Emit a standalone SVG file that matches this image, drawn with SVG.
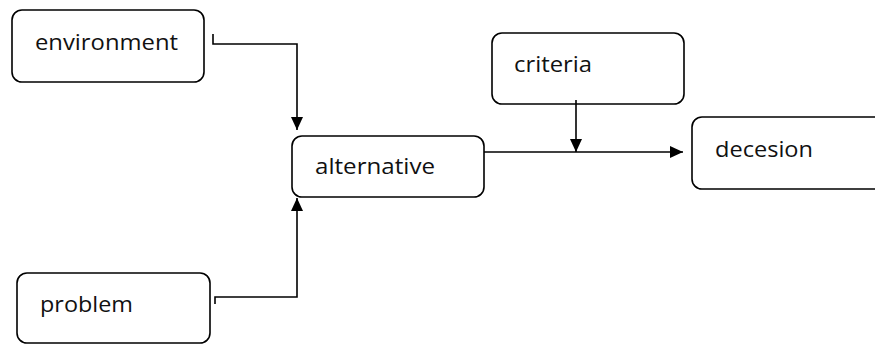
<svg xmlns="http://www.w3.org/2000/svg" width="875" height="344" viewBox="0 0 875 344">
<style>
.box{fill:#fff;stroke:#000;stroke-width:1.6}
.lbl{font-family:"Open Sans","Noto Sans",sans-serif;font-size:21px;fill:#111}
.con{fill:none;stroke:#000;stroke-width:1.6}
</style>
<defs>
<marker id="arr" viewBox="0 0 13 12" refX="13" refY="6" markerWidth="13" markerHeight="12" markerUnits="userSpaceOnUse" orient="auto">
<path d="M0,0 L13,6 L0,12 Z" fill="#000"/>
</marker>
</defs>
<rect width="875" height="344" fill="#fff"/>
<g id="environment"><rect class="box" x="12" y="10" width="192" height="72" rx="10"/><text class="lbl" x="35" y="50" textLength="143" lengthAdjust="spacingAndGlyphs">environment</text></g>
<g id="alternative"><rect class="box" x="292" y="136" width="192" height="61" rx="10"/><text class="lbl" x="315" y="174" textLength="120" lengthAdjust="spacingAndGlyphs">alternative</text></g>
<g id="criteria"><rect class="box" x="492" y="33" width="192" height="71" rx="10"/><text class="lbl" x="514" y="72" textLength="78" lengthAdjust="spacingAndGlyphs">criteria</text></g>
<g id="decesion"><rect class="box" x="692" y="117" width="200" height="72" rx="10"/><text class="lbl" x="715" y="157" textLength="98" lengthAdjust="spacingAndGlyphs">decesion</text></g>
<g id="problem"><rect class="box" x="17" y="273" width="193" height="70" rx="10"/><text class="lbl" x="40" y="312" textLength="93" lengthAdjust="spacingAndGlyphs">problem</text></g>
<g id="connectors">
<path class="con" d="M213,34 V44 H297 V130" marker-end="url(#arr)"/>
<path class="con" d="M215,304 V297 H297 V198" marker-end="url(#arr)"/>
<path class="con" d="M484,152 H683" marker-end="url(#arr)"/>
<path class="con" d="M576,100 V152" marker-end="url(#arr)"/>
</g>
</svg>
